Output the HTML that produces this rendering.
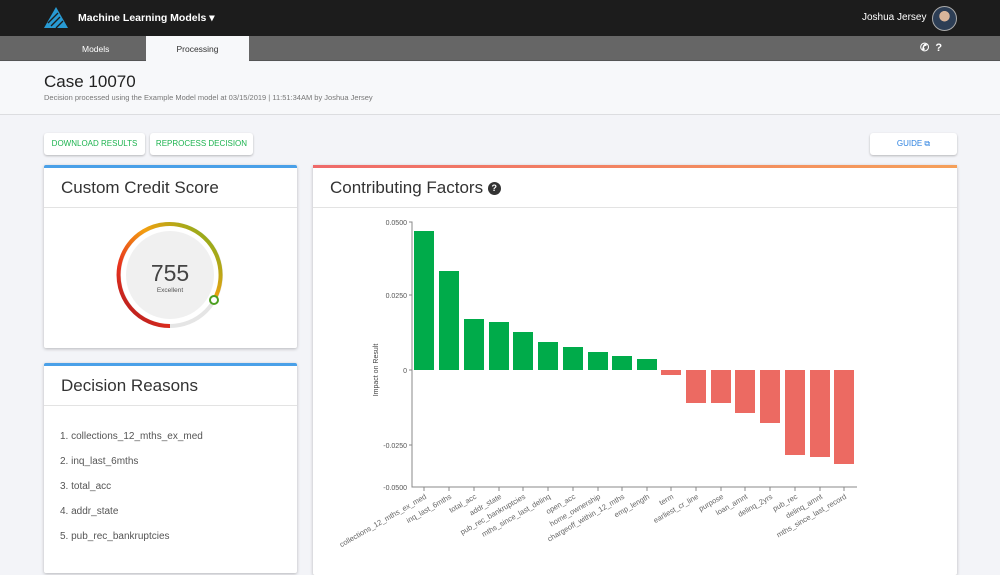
<!DOCTYPE html>
<html><head><meta charset="utf-8"><style>
*{margin:0;padding:0;box-sizing:border-box}
body{width:1000px;height:563px;overflow:hidden;background:#f3f4f8;font-family:"Liberation Sans",sans-serif;position:relative;color:#333}
.a{position:absolute}
.card{position:absolute;background:#fff;box-shadow:0 1px 3px rgba(0,0,0,.25);border-radius:2px}
.btn{position:absolute;background:#fff;border-radius:3px;box-shadow:0 1px 2px rgba(0,0,0,.25);font-size:8px;text-align:center;line-height:22px}
.ct{position:absolute;left:0;right:0;top:0;height:40px;border-bottom:1px solid #e3e3e3;font-size:17px;padding-left:17px;line-height:40px;color:#333}
</style></head><body>
<div class="a" style="left:0;top:0;width:1000px;height:36px;background:#1c1c1c"></div>
<svg class="a" style="left:44px;top:7px" width="24" height="22"><g fill="#2aa8e8"><polygon points="12,0 24,21 0,21" opacity=".9"/></g><g stroke="#1c1c1c" stroke-width="1.3"><line x1="4" y1="16" x2="14" y2="6"/><line x1="7" y1="19" x2="16" y2="10"/><line x1="12" y1="21" x2="19" y2="14"/></g></svg>
<div class="a" style="left:78px;top:12px;color:#fff;font-size:10.5px;font-weight:bold">Machine Learning Models ▾</div>
<div class="a" style="left:862px;top:12px;color:#fff;font-size:10px">Joshua Jersey</div>
<div class="a" style="left:932px;top:6px;width:25px;height:25px;border-radius:50%;background:radial-gradient(circle at 50% 40%,#d9b59a 0 28%,#2d3e55 30% 100%);border:1px solid #aaa"></div>
<div class="a" style="left:0;top:36px;width:1000px;height:25px;background:#666;border-bottom:1px solid #555"></div>
<div class="a" style="left:82px;top:44px;color:#fff;font-size:8.5px">Models</div>
<div class="a" style="left:146px;top:36px;width:103px;height:26px;background:#f7f8fa;text-align:center;font-size:8.5px;line-height:26px;color:#333">Processing</div>
<div class="a" style="left:920px;top:41px;color:#fff;font-size:11px;font-weight:bold">✆ &nbsp;?</div>
<div class="a" style="left:0;top:62px;width:1000px;height:53px;background:#f7f8fa;border-bottom:1px solid #dcdde0"></div>
<div class="a" style="left:44px;top:72px;font-size:17px;color:#222">Case 10070</div>
<div class="a" style="left:44px;top:93px;font-size:7.5px;color:#777">Decision processed using the Example Model model at 03/15/2019 | 11:51:34AM by Joshua Jersey</div>
<div class="btn" style="left:44px;top:133px;width:101px;color:#1db34f">DOWNLOAD RESULTS</div>
<div class="btn" style="left:150px;top:133px;width:103px;color:#1db34f">REPROCESS DECISION</div>
<div class="btn" style="left:870px;top:133px;width:87px;color:#2d82e0">GUIDE ⧉</div>

<div class="card" style="left:44px;top:165px;width:253px;height:183px;border-top:3px solid #4aa0e8">
<div class="ct">Custom Credit Score</div></div>
<svg class="a" style="left:110px;top:218px" width="120" height="112">
<defs><linearGradient id="g" x1="0" y1="1" x2="1" y2="0"><stop offset="0" stop-color="#a0141e"/><stop offset=".3" stop-color="#e8321e"/><stop offset=".6" stop-color="#f3a010"/><stop offset="1" stop-color="#6cb020"/></linearGradient></defs>
<circle cx="60" cy="57" r="44" fill="#f0f0f0"/>
<circle cx="60" cy="57" r="51" fill="none" stroke="#e5e5e5" stroke-width="4"/>
<path d="M60 108 A51 51 0 1 1 104 82" fill="none" stroke="url(#g)" stroke-width="4"/>
<circle cx="104" cy="82" r="4" fill="#fff" stroke="#4ca020" stroke-width="2"/>
<text x="60" y="63" text-anchor="middle" font-size="23" fill="#444" font-family="Liberation Sans">755</text>
<text x="60" y="74" text-anchor="middle" font-size="6.5" fill="#555" font-family="Liberation Sans">Excellent</text>
</svg>

<div class="card" style="left:44px;top:363px;width:253px;height:210px;border-top:3px solid #4aa0e8">
<div class="ct">Decision Reasons</div>
<div class="a" style="left:16px;top:58px;font-size:10px;color:#555;line-height:25px">1. collections_12_mths_ex_med<br>2. inq_last_6mths<br>3. total_acc<br>4. addr_state<br>5. pub_rec_bankruptcies</div></div>

<div class="card" style="left:313px;top:165px;width:644px;height:410px;border-top:3px solid;border-image:linear-gradient(90deg,#ef6a6a,#f5a05a) 1">
<div class="ct">Contributing Factors <span style="display:inline-block;width:13px;height:13px;border-radius:50%;background:#333;color:#fff;font-size:9px;line-height:13px;text-align:center;vertical-align:2px;font-weight:bold">?</span></div></div>

<svg class="a" style="left:0;top:0" width="1000" height="563" font-family="Liberation Sans">
<g fill="#00ab4a">
<rect x="414" y="231" width="20" height="139"/><rect x="439" y="271" width="20" height="99"/><rect x="464" y="319" width="20" height="51"/><rect x="489" y="322" width="20" height="48"/><rect x="513" y="332" width="20" height="38"/><rect x="538" y="342" width="20" height="28"/><rect x="563" y="347" width="20" height="23"/><rect x="588" y="352" width="20" height="18"/><rect x="612" y="356" width="20" height="14"/><rect x="637" y="359" width="20" height="11"/>
</g>
<g fill="#ec6a62">
<rect x="661" y="370" width="20" height="5"/><rect x="686" y="370" width="20" height="33"/><rect x="711" y="370" width="20" height="33"/><rect x="735" y="370" width="20" height="43"/><rect x="760" y="370" width="20" height="53"/><rect x="785" y="370" width="20" height="85"/><rect x="810" y="370" width="20" height="87"/><rect x="834" y="370" width="20" height="94"/>
</g>
<g stroke="#888" fill="none" stroke-width="1"><path d="M409 222H412V487H857"/><path d="M409 295H412M409 370H412M409 445H412"/>
<path d="M424 487v4M449 487v4M474 487v4M499 487v4M523 487v4M548 487v4M573 487v4M598 487v4M622 487v4M647 487v4M671 487v4M696 487v4M721 487v4M745 487v4M770 487v4M795 487v4M820 487v4M844 487v4"/></g>
<g font-size="7" fill="#555" text-anchor="end"><text x="407" y="225">0.0500</text><text x="407" y="298">0.0250</text><text x="407" y="373">0</text><text x="407" y="448">-0.0250</text><text x="407" y="490">-0.0500</text></g>
<text transform="translate(378,370) rotate(-90)" font-size="7" fill="#444" text-anchor="middle">Impact on Result</text>
<g font-size="7.5" fill="#666" text-anchor="end">
<text transform="translate(427,498) rotate(-30)">collections_12_mths_ex_med</text>
<text transform="translate(452,498) rotate(-30)">inq_last_6mths</text>
<text transform="translate(477,498) rotate(-30)">total_acc</text>
<text transform="translate(502,498) rotate(-30)">addr_state</text>
<text transform="translate(526,498) rotate(-30)">pub_rec_bankruptcies</text>
<text transform="translate(551,498) rotate(-30)">mths_since_last_delinq</text>
<text transform="translate(576,498) rotate(-30)">open_acc</text>
<text transform="translate(601,498) rotate(-30)">home_ownership</text>
<text transform="translate(625,498) rotate(-30)">chargeoff_within_12_mths</text>
<text transform="translate(650,498) rotate(-30)">emp_length</text>
<text transform="translate(674,498) rotate(-30)">term</text>
<text transform="translate(699,498) rotate(-30)">earliest_cr_line</text>
<text transform="translate(724,498) rotate(-30)">purpose</text>
<text transform="translate(748,498) rotate(-30)">loan_amnt</text>
<text transform="translate(773,498) rotate(-30)">delinq_2yrs</text>
<text transform="translate(798,498) rotate(-30)">pub_rec</text>
<text transform="translate(823,498) rotate(-30)">delinq_amnt</text>
<text transform="translate(847,498) rotate(-30)">mths_since_last_record</text>
</g>
</svg>
</body></html>
